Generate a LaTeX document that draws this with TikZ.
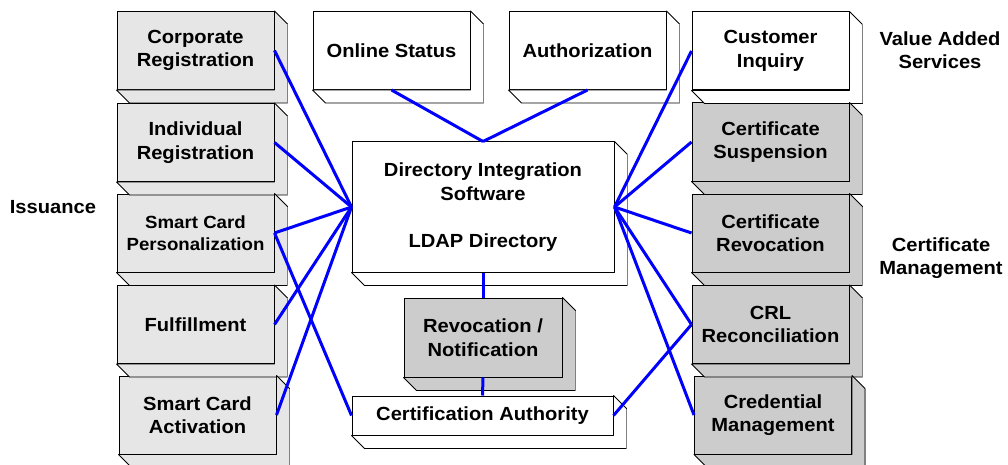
\documentclass[tikz,border=0pt]{standalone}
\usepackage{fontspec}
\setmainfont{Liberation Sans}[FakeStretch=1.06]
\definecolor{lightbox}{HTML}{E6E6E6}
\definecolor{darkbox}{HTML}{CCCCCC}
\definecolor{conblue}{HTML}{0000FF}
\newcommand\xtrude[2]{%
  \filldraw[fill=#2, draw=black, line width=0.8pt, line join=round]
    (#1.north east) -- ([shift={(13pt,-13pt)}]#1.north east)
    -- ([shift={(13pt,-13pt)}]#1.south east)
    -- ([shift={(13pt,-13pt)}]#1.south west)
    -- (#1.south west) -- (#1.south east) -- cycle;
  \draw[gray, line width=1.5pt] ([shift={(13pt,-13pt)}]#1.north east) -- ([shift={(13pt,-13pt)}]#1.south east);
}
\begin{document}
\begin{tikzpicture}[x=1pt,y=-1pt,
  lbl/.style={font=\bfseries\fontsize{19}{23.5}\selectfont, align=center, inner sep=0pt, text=black},
  box/.style={lbl, draw=black, line width=1pt, fill=#1, minimum width=157pt, minimum height=78pt},
  link/.style={draw=conblue, line width=3pt}]
\useasboundingbox (0,0) rectangle (1008,465);
% left column
\node[box=lightbox] (corp)  at (195.5,50.5) {Corporate\\Registration};
\node[box=lightbox] (indiv) at (195.5,142.5) {Individual\\Registration};
\node[box=lightbox, font=\bfseries\fontsize{17.6}{22}\selectfont] (pers) at (195.5,233) {Smart Card\\Personalization};
\node[box=lightbox] (fulf)  at (195.5,324.5) {Fulfillment};
\node[box=lightbox] (activ) at (197.5,415) {Smart Card\\Activation};
% top row
\node[box=white] (online) at (391.5,50.5) {Online Status};
\node[box=white] (auth)   at (587.5,50.5) {Authorization};
% right column
\node[box=white]    (cust) at (770.5,51) {Customer\\Inquiry};
\node[box=darkbox]  (susp) at (770.5,142) {Certificate\\Suspension};
\node[box=darkbox]  (crev) at (770.5,233) {Certificate\\Revocation};
\node[box=darkbox]  (crl)  at (770.5,324.5) {CRL\\Reconciliation};
\node[box=darkbox]  (cred) at (773,415) {Credential\\Management};
% centre
\node[box=white, minimum width=262pt, minimum height=130pt] (dir) at (483,207)
  {Directory Integration\\Software\\[23.5pt]LDAP Directory};
\node[box=darkbox, minimum width=158pt, minimum height=79pt] (revn) at (483,337.5) {Revocation /\\Notification};
\node[box=white, minimum width=261pt, minimum height=39pt] (ca) at (482.5,415.5) {Certification Authority};
% extrusions
\foreach \n/\c in {corp/lightbox, indiv/lightbox, pers/lightbox, fulf/lightbox, activ/lightbox,
  online/white, auth/white, cust/white, susp/darkbox, crev/darkbox, crl/darkbox, cred/darkbox,
  dir/white, revn/darkbox, ca/white}{\xtrude{\n}{\c}}
% side labels
\node[lbl] (issu) at (53,207) {Issuance};
\node[lbl] (vas) at (940,50) {Value Added\\Services};
\node[lbl] (cm) at (941,258) {Certificate\\Management};
% connectors
\foreach \n in {corp, indiv, pers, fulf, activ}{\draw[link] (\n.east) -- (dir.west);}
\draw[link] (pers.east) -- (ca.west);
\foreach \n in {cust, susp, crev, crl, cred}{\draw[link] (\n.west) -- (dir.east);}
\draw[link] (crl.west) -- (ca.east);
\draw[link] (online.south) -- (dir.north);
\draw[link] (auth.south) -- (dir.north);
\draw[link] (dir.south) -- (revn.north);
\draw[link] (revn.south) -- (ca.north);
\end{tikzpicture}
\end{document}
